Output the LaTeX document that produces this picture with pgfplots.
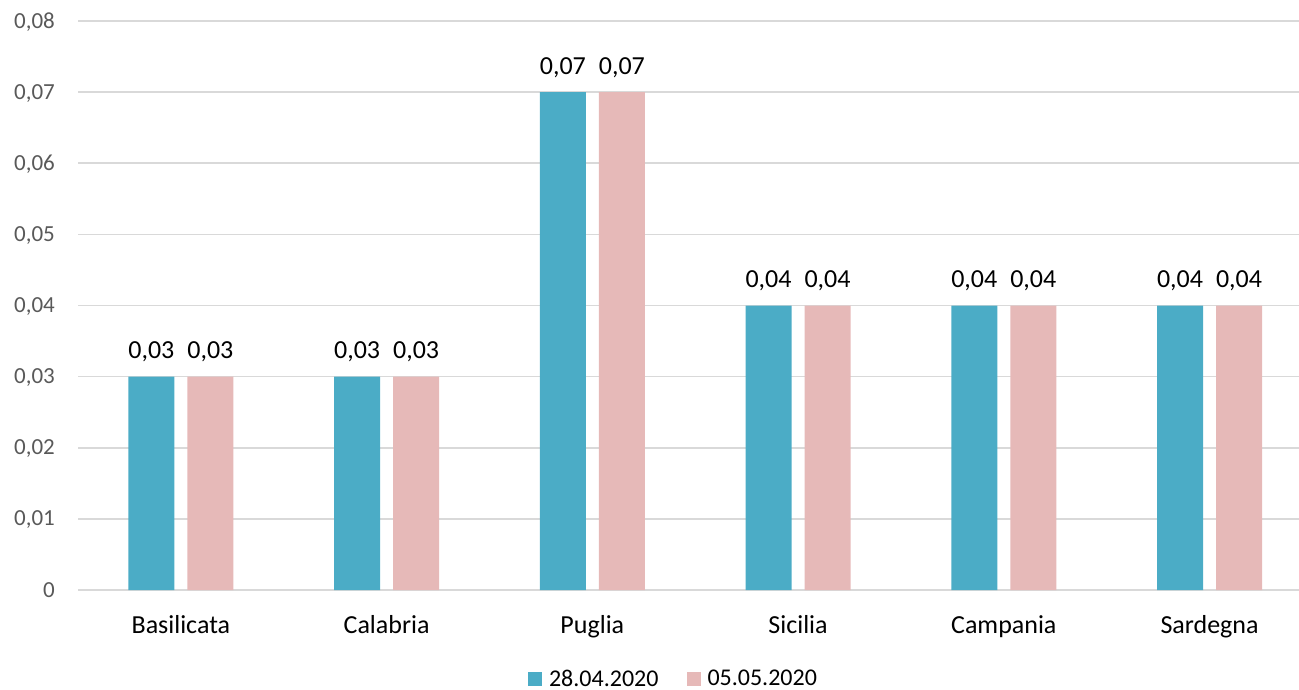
\documentclass[border=0pt]{standalone}
\usepackage{pgfplots}
\pgfplotsset{compat=1.18}
\usepackage{fontspec}
\setmainfont{Carlito}
\definecolor{teal1}{HTML}{4BACC6}
\definecolor{pink1}{HTML}{E6B9B8}
\definecolor{gridc}{HTML}{D9D9D9}
\definecolor{tickc}{HTML}{595959}
\begin{document}
\begin{tikzpicture}
\useasboundingbox (0,0) rectangle (1299pt,689pt);
\begin{axis}[
  at={(78pt,99pt)}, anchor=south west,
  scale only axis, width=1221pt, height=569pt,
  xmin=-0.5, xmax=5.435, ymin=0, ymax=0.08,
  ybar=13pt, bar width=46pt,
  axis line style={draw=none},
  major tick length=0pt,
  scaled y ticks=false,
  ymajorgrids, grid style={gridc, line width=1.6pt},
  ytick={0,0.01,0.02,0.03,0.04,0.05,0.06,0.07,0.08},
  yticklabels={0,{0,01},{0,02},{0,03},{0,04},{0,05},{0,06},{0,07},{0,08}},
  yticklabel style={font=\fontsize{23}{27}\selectfont, text=tickc, anchor=base east, inner sep=0pt, xshift=-23pt, yshift=-7pt},
  xtick={0,1,2,3,4,5},
  xticklabels={Basilicata,Calabria,Puglia,Sicilia,Campania,Sardegna},
  xticklabel style={font=\fontsize{26}{30}\selectfont, text=black, anchor=base, inner sep=0pt, yshift=-43pt},
  nodes near coords,
  /pgf/number format/.cd, use comma, fixed, fixed zerofill, precision=2, assume math mode=true, /pgfplots/.cd,
  every node near coord/.append style={font=\fontsize{26}{30}\selectfont, text=black, anchor=base, inner sep=0pt, yshift=18pt},
  legend style={at={(0.4877,-0.156)}, anchor=center, draw=none, fill=none,
    legend columns=2, font=\fontsize{24}{28}\selectfont, text=black,
    /tikz/every odd column/.append style={column sep=5pt},
    /tikz/every even column/.append style={column sep=26pt},
    inner sep=0pt, row sep=0pt},
  legend image code/.code={\fill[#1] (0pt,-7pt) rectangle (14pt,7pt);},
  legend cell align=left,
]
\addplot[fill=teal1, draw=none] coordinates {(0,0.03) (1,0.03) (2,0.07) (3,0.04) (4,0.04) (5,0.04)};
\addplot[fill=pink1, draw=none] coordinates {(0,0.03) (1,0.03) (2,0.07) (3,0.04) (4,0.04) (5,0.04)};
\legend{28.04.2020,05.05.2020}
\end{axis}
\end{tikzpicture}
\end{document}
